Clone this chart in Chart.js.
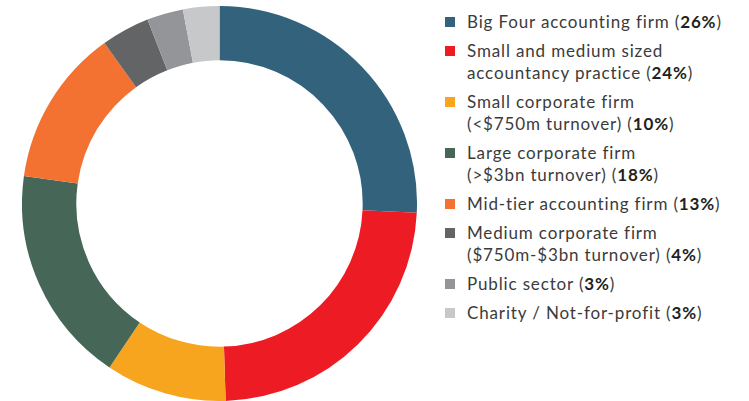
<!DOCTYPE html>
<html>
<head>
<meta charset="utf-8">
<script src="https://cdn.jsdelivr.net/npm/chart.js@4"></script>
<style>
  html, body { margin: 0; padding: 0; background: #fff; }
  body { width: 749px; height: 401px; position: relative; overflow: hidden; font-family: Lato, 'Open Sans', sans-serif; }
  #wrap { position: absolute; left: 22px; top: 6px; width: 395px; height: 395px; }
  #legend { position: absolute; left: 445px; top: 11px; margin: 0; padding: 0; list-style: none; }
  #legend li { position: relative; padding-left: 22px; font-size: 17px; line-height: 22px; letter-spacing: 0.85px; color: #3b3b3c; margin-bottom: 7px; white-space: nowrap; }
  #legend li .sw { position: absolute; left: 0; top: 6px; width: 10px; height: 10px; }
  #legend li b { color: #231f20; font-weight: 700; }
</style>
</head>
<body>
<div id="wrap"><canvas id="chartDonut"></canvas></div>
<ul id="legend"></ul>
<script>
'use strict';

/* ─── DATA ─────────────────────────────────────────────── */
const labels = [
  'Big Four accounting firm',
  'Small and medium sized<br>accountancy practice',
  'Small corporate firm<br>(&lt;$750m turnover)',
  'Large corporate firm<br>(&gt;$3bn turnover)',
  'Mid-tier accounting firm',
  'Medium corporate firm<br>($750m-$3bn turnover)',
  'Public sector',
  'Charity / Not-for-profit',
];
const values = [26, 24, 10, 18, 13, 4, 3, 3];
const colors = ['#33627d', '#ed1c24', '#f7a51e', '#466657', '#f37232', '#636466', '#939598', '#c7c8ca'];

/* ─── LEGEND ───────────────────────────────────────────── */
document.getElementById('legend').innerHTML = labels.map((l, i) => `
  <li><span class="sw" style="background:${colors[i]}"></span>${l} (<b>${values[i]}%</b>)</li>
`).join('');

/* ─── DOUGHNUT ─────────────────────────────────────────── */
const ctx = document.getElementById('chartDonut').getContext('2d');
new Chart(ctx, {
  type: 'doughnut',
  data: {
    labels: labels.map(l => l.replace(/<br>/g, ' ')),
    datasets: [{
      data: values,
      backgroundColor: colors,
      borderWidth: 0,
    }],
  },
  options: {
    responsive: true,
    maintainAspectRatio: false,
    animation: false,
    cutout: '72.5%',
    layout: { padding: 0 },
    plugins: {
      legend: { display: false },
      tooltip: { enabled: false },
    },
  },
});
</script>
</body>
</html>
